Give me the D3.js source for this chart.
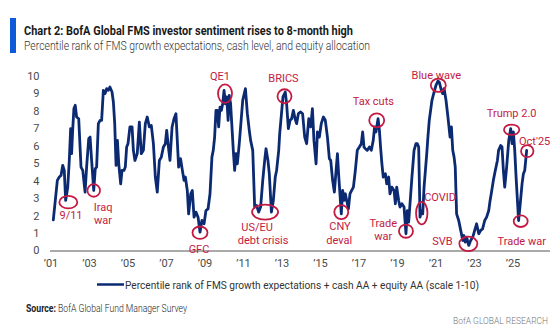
<!DOCTYPE html>
<html>
<head>
<meta charset="utf-8">
<script src="https://cdn.jsdelivr.net/npm/d3@7"></script>
<style>
  body { margin: 0; background: #fff; }
  text { font-family: Roboto, "Open Sans", sans-serif; }
</style>
</head>
<body>
<svg id="chart" width="559" height="332"></svg>
<script>
// sentiment index (decimal year, scale 0-10)
var years = [2001.12,2001.33,2001.43,2001.52,2001.61,2001.69,2001.76,2001.87,2001.95,2002.02,2002.07,2002.13,2002.19,2002.26,2002.33,2002.44,2002.56,2002.65,2002.77,2002.85,2002.96,
  2003.03,2003.11,2003.22,2003.30,2003.37,2003.46,2003.55,2003.63,2003.72,2003.81,2003.89,2003.98,2004.06,2004.17,2004.24,2004.31,2004.38,2004.45,2004.52,2004.62,2004.69,2004.79,2004.86,2004.93,
  2005.00,2005.10,2005.21,2005.28,2005.36,2005.48,2005.59,2005.69,2005.80,2005.90,2006.00,2006.11,2006.21,2006.32,2006.42,2006.52,2006.63,2006.73,2006.84,2006.94,
  2007.01,2007.08,2007.18,2007.29,2007.39,2007.49,2007.56,2007.63,2007.73,2007.84,2007.91,2007.98,2008.08,2008.15,2008.26,2008.34,2008.43,2008.53,2008.64,2008.74,2008.84,2008.95,
  2009.05,2009.16,2009.26,2009.36,2009.43,2009.50,2009.57,2009.64,2009.71,2009.78,2009.85,2009.92,2009.99,2010.06,2010.13,2010.20,2010.26,2010.33,2010.40,2010.47,2010.54,2010.61,2010.68,2010.78,2010.85,2010.96,
  2011.10,2011.20,2011.30,2011.37,2011.48,2011.58,2011.68,2011.79,2011.89,2012.00,2012.10,2012.17,2012.27,2012.34,2012.45,2012.55,2012.65,2012.72,2012.83,2012.88,
  2013.05,2013.17,2013.24,2013.33,2013.42,2013.50,2013.59,2013.68,2013.76,2013.85,2013.97,2014.07,2014.18,2014.28,2014.39,2014.49,2014.58,2014.66,2014.77,2014.84,2014.94,
  2015.04,2015.15,2015.25,2015.36,2015.46,2015.53,2015.63,2015.72,2015.81,2015.88,2015.94,2016.01,2016.08,2016.15,2016.22,2016.29,2016.36,2016.45,2016.53,2016.62,2016.71,2016.81,2016.91,
  2017.02,2017.12,2017.19,2017.26,2017.33,2017.43,2017.54,2017.64,2017.74,2017.81,2017.88,2017.99,2018.06,2018.12,2018.19,2018.26,2018.37,2018.44,2018.54,2018.61,2018.71,2018.82,2018.89,2018.96,
  2019.06,2019.13,2019.23,2019.34,2019.44,2019.51,2019.58,2019.65,2019.75,2019.86,2019.96,2020.03,2020.10,2020.17,2020.24,2020.31,2020.38,2020.45,2020.52,2020.58,2020.65,2020.72,2020.79,2020.90,
  2021.00,2021.10,2021.17,2021.28,2021.35,2021.42,2021.52,2021.62,2021.73,2021.80,2021.87,2021.94,2022.00,2022.07,2022.18,2022.25,2022.32,2022.39,2022.45,2022.52,2022.59,2022.70,2022.80,2022.91,
  2023.01,2023.11,2023.22,2023.32,2023.42,2023.53,2023.63,2023.74,2023.81,2023.87,2023.98,2024.08,2024.19,2024.25,2024.36,2024.43,2024.50,2024.57,2024.67,2024.78,2024.88,2024.95,
  2025.02,2025.09,2025.16,2025.23,2025.29,2025.36,2025.47,2025.54,2025.61,2025.71];
var values = [1.76,4.02,4.21,4.30,4.88,4.59,2.87,3.63,5.16,6.98,5.55,6.98,8.13,8.32,7.65,7.55,4.78,4.59,3.35,4.78,6.41,
  6.50,5.16,3.44,4.69,4.78,7.27,7.46,7.46,9.18,8.99,9.28,9.18,9.37,9.08,8.51,7.27,4.88,6.31,4.97,3.82,4.59,4.59,4.78,5.93,
  6.12,7.08,7.08,5.74,5.16,5.55,7.36,5.55,5.74,7.27,7.65,7.08,7.17,6.12,4.21,3.35,5.16,5.35,5.93,6.12,
  6.88,6.12,5.16,7.08,7.55,7.84,6.31,4.78,5.26,4.49,4.02,4.21,3.44,2.10,3.25,3.44,1.91,2.20,1.91,1.05,1.72,1.53,
  2.29,2.39,3.25,5.35,5.74,6.50,8.03,8.03,7.08,8.22,8.03,8.41,9.18,8.41,8.80,7.46,8.89,8.41,7.08,5.74,4.59,5.55,4.97,6.12,7.08,8.61,
  9.28,7.84,6.88,6.31,5.74,2.49,2.58,2.20,2.49,4.02,5.16,5.83,5.16,4.40,2.20,2.87,4.21,4.59,5.74,6.69,
  8.80,9.08,8.41,6.98,7.46,7.55,8.03,7.55,7.27,7.84,7.94,7.84,6.50,6.12,7.55,7.08,8.13,6.31,4.97,6.79,6.50,
  7.27,7.65,7.46,6.50,5.26,5.16,4.02,3.35,4.59,5.55,4.40,3.25,2.10,3.44,2.87,3.25,2.87,2.39,3.25,3.44,3.63,4.59,5.74,
  5.93,6.12,6.79,5.93,5.83,5.74,5.93,5.74,6.31,7.08,6.79,7.55,6.88,5.93,4.97,4.21,4.40,3.82,4.21,3.25,3.63,3.44,2.68,3.63,
  2.87,2.49,2.68,2.49,0.96,2.29,1.63,2.68,4.21,5.74,6.12,6.12,5.93,1.91,2.29,2.10,3.63,4.59,5.55,6.50,7.46,8.03,8.61,9.08,
  9.47,9.71,9.65,9.18,8.99,9.28,8.61,7.65,6.50,7.08,5.74,5.35,4.78,2.10,1.72,1.34,0.96,0.57,0.86,0.48,0.77,0.29,0.57,0.77,
  1.15,1.53,0.96,1.15,1.24,1.72,1.91,2.29,2.87,3.25,4.02,4.59,5.16,5.74,6.02,5.93,4.59,3.63,4.78,6.31,6.98,6.12,
  6.79,5.74,4.21,2.87,1.72,2.49,3.82,4.40,4.59,5.74];

var tickYears = [2001,2003,2005,2007,2009,2011,2013,2015,2017,2019,2021,2023,2025];
var yTicks = [0,1,2,3,4,5,6,7,8,9,10];

// event call-outs (circle centre in data units)
var annoNames  = ["9/11","Iraq war","GFC","QE1","US/EU debt crisis","BRICS","CNY deval","Tax cuts","Trade war","COVID","Blue wave","SVB","Trump 2.0","Oct'25","Trade war"];
var annoYears  = [2001.90,2003.22,2008.74,2010.04,2012.12,2013.13,2016.08,2017.92,2019.44,2020.26,2021.12,2022.68,2024.93,2025.74,2025.40];
var annoValues = [2.77,3.44,1.02,8.99,2.20,8.84,2.20,7.46,1.11,2.14,9.47,0.38,6.92,5.70,1.68];

var titleText = "Chart 2: BofA Global FMS investor sentiment rises to 8-month high";
var subtitleText = "Percentile rank of FMS growth expectations, cash level, and equity allocation";
var legendText = "Percentile rank of FMS growth expectations + cash AA + equity AA (scale 1-10)";

var navy = "#0b2a72", red = "#c31a42", grey = "#4a4a4a";

// label layout for each call-out: ellipse radii and text lines offset from the circle
var annoLayout = [
  {rx: 9,   ry: 6.3, lines: [["9/11", 2.7, 13.3]]},
  {rx: 6.3, ry: 6.3, lines: [["Iraq", 9.3, 16.7], ["war", 9.3, 30]]},
  {rx: 7.5, ry: 6.2, lines: [["GFC", -1, 16]]},
  {rx: 7,   ry: 9.3, lines: [["QE1", -5, -17.6]]},
  {rx: 13,  ry: 7.5, lines: [["US/EU", -8, 15], ["debt crisis", -2, 28.3]]},
  {rx: 7,   ry: 7,   lines: [["BRICS", -1, -18]]},
  {rx: 7,   ry: 7,   lines: [["CNY", -1.3, 13.8], ["deval", -2, 28.3]]},
  {rx: 7.5, ry: 7,   lines: [["Tax cuts", -3.4, -19.5]]},
  {rx: 7,   ry: 6.6, lines: [["Trade", -22.7, -8.4], ["war", -22.7, 4.6]]},
  {rx: 5.7, ry: 11.2,lines: [["COVID", 18.3, -15.7]]},
  {rx: 7.5, ry: 6.7, lines: [["Blue wave", -2, -10]]},
  {rx: 9,   ry: 7.2, lines: [["SVB", -26, -3]]},
  {rx: 7.7, ry: 5.2, lines: [["Trump 2.0", 0, -16.5]]},
  {rx: 6.2, ry: 6,   lines: [["Oct'25", 7.4, -10.2]]},
  {rx: 7,   ry: 5.8, lines: [["Trade war", 1, 19.8]]}
];

var data = years.map(function(y, i) { return {year: y, value: values[i]}; });

var svg = d3.select("#chart");

var x = d3.scaleLinear().domain([2001, 2026]).range([51, 532.25]);
var y = d3.scaleLinear().domain([0, 10]).range([250.5, 76]);

// header
svg.append("rect").attr("x", 10).attr("y", 18).attr("width", 6).attr("height", 35).attr("fill", "#0d5bd8");
svg.append("text").attr("x", 24).attr("y", 34.5)
  .attr("font-size", 12.5).attr("font-weight", 700).attr("fill", "#1a1a1a")
  .attr("textLength", 329).attr("lengthAdjust", "spacingAndGlyphs")
  .text(titleText);
svg.append("text").attr("x", 24).attr("y", 49.5)
  .attr("font-size", 12.5).attr("font-weight", 300).attr("fill", "#333")
  .attr("textLength", 346).attr("lengthAdjust", "spacingAndGlyphs")
  .text(subtitleText);

// y labels
svg.append("g").selectAll("text")
  .data(yTicks).enter().append("text")
  .attr("x", 39.5).attr("y", function(d) { return y(d); })
  .attr("dy", "0.36em").attr("text-anchor", "end")
  .attr("font-size", 11).attr("fill", grey)
  .text(function(d) { return d; });

// x labels
svg.append("g").selectAll("text")
  .data(tickYears).enter().append("text")
  .attr("x", function(d) { return x(d); }).attr("y", 267)
  .attr("text-anchor", "middle")
  .attr("font-size", 11).attr("fill", grey)
  .text(function(d) { return "\u2019" + String(d).slice(2); });

// baseline
svg.append("line").attr("x1", 50).attr("x2", 550).attr("y1", 251).attr("y2", 251)
  .attr("stroke", "#555").attr("stroke-width", 1);

// series
var line = d3.line()
  .x(function(d) { return x(d.year); })
  .y(function(d) { return y(d.value); });

svg.append("path").datum(data)
  .attr("d", line)
  .attr("fill", "none").attr("stroke", navy)
  .attr("stroke-width", 2.8).attr("stroke-linejoin", "round").attr("stroke-linecap", "round");

// call-outs
var anno = svg.append("g");
annoNames.forEach(function(name, i) {
  var cx = x(annoYears[i]), cy = y(annoValues[i]), lay = annoLayout[i];
  anno.append("ellipse").attr("cx", cx).attr("cy", cy)
    .attr("rx", lay.rx).attr("ry", lay.ry)
    .attr("fill", "none").attr("stroke", red).attr("stroke-width", 1.8);
  lay.lines.forEach(function(l) {
    anno.append("text").attr("x", cx + l[1]).attr("y", cy + l[2])
      .attr("dy", "0.35em").attr("text-anchor", "middle")
      .attr("font-size", 11).attr("fill", red)
      .text(l[0]);
  });
});

// legend
svg.append("line").attr("x1", 97).attr("x2", 124).attr("y1", 284.5).attr("y2", 284.5)
  .attr("stroke", navy).attr("stroke-width", 2.5);
svg.append("text").attr("x", 125).attr("y", 288.5)
  .attr("font-size", 11.5).attr("fill", "#333")
  .attr("textLength", 354).attr("lengthAdjust", "spacingAndGlyphs")
  .text(legendText);

// source + footer
svg.append("text").attr("x", 26).attr("y", 311.5)
  .attr("font-size", 10).attr("font-weight", 700).attr("fill", "#222")
  .attr("textLength", 30).attr("lengthAdjust", "spacingAndGlyphs")
  .text("Source:");
svg.append("text").attr("x", 58).attr("y", 311.5)
  .attr("font-size", 10).attr("font-weight", 300).attr("fill", "#222")
  .attr("textLength", 129).attr("lengthAdjust", "spacingAndGlyphs")
  .text("BofA Global Fund Manager Survey");

svg.append("text").attr("x", 453).attr("y", 324)
  .attr("font-size", 9).attr("font-weight", 300).attr("fill", "#777")
  .attr("textLength", 95).attr("lengthAdjust", "spacingAndGlyphs")
  .text("BofA GLOBAL RESEARCH");
</script>
</body>
</html>
